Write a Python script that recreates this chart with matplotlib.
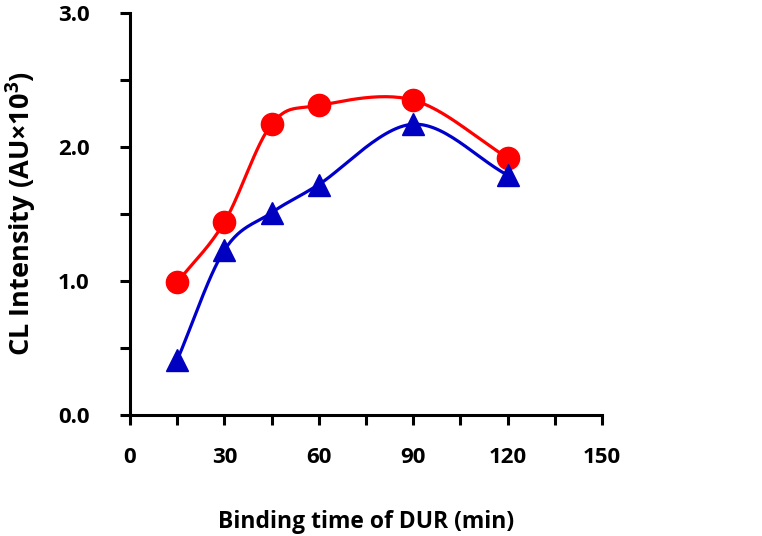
import matplotlib
matplotlib.use('Agg')
import matplotlib.pyplot as plt
import numpy as np

plt.rcParams['font.family'] = ['Open Sans', 'DejaVu Sans']
plt.rcParams['font.weight'] = 'bold'
plt.rcParams['mathtext.fontset'] = 'custom'
plt.rcParams['mathtext.rm'] = 'Open Sans:bold'
plt.rcParams['mathtext.bf'] = 'Open Sans:bold'
plt.rcParams['mathtext.default'] = 'bf'

time_min = [15, 30, 45, 60, 90, 120]
red_vals = [0.99, 1.44, 2.17, 2.31, 2.35, 1.92]
blue_vals = [0.41, 1.23, 1.51, 1.72, 2.17, 1.79]


def smooth(x, y, n=30):
    # catmull-rom style curve through the points, like excel's smoothed line
    x = np.asarray(x, float)
    y = np.asarray(y, float)
    px = np.concatenate([[2 * x[0] - x[1]], x, [2 * x[-1] - x[-2]]])
    py = np.concatenate([[2 * y[0] - y[1]], y, [2 * y[-1] - y[-2]]])
    xs, ys = [], []
    t = np.linspace(0, 1, n)
    for i in range(1, len(px) - 2):
        for p, out in ((px, xs), (py, ys)):
            p0, p1, p2, p3 = p[i - 1], p[i], p[i + 1], p[i + 2]
            out.extend(0.5 * (2 * p1 + (-p0 + p2) * t
                              + (2 * p0 - 5 * p1 + 4 * p2 - p3) * t ** 2
                              + (-p0 + 3 * p1 - 3 * p2 + p3) * t ** 3))
    return xs, ys


fig = plt.figure(figsize=(7.62, 5.36), dpi=100)
ax = fig.add_axes([0.1706, 0.2257, 0.6194, 0.75])

sx, sy = smooth(time_min, red_vals)
ax.plot(sx, sy, color='#ff0000', lw=2.3)
ax.plot(time_min, red_vals, 'o', color='#ff0000', ms=16, mec='#ff0000', clip_on=False)

sx, sy = smooth(time_min, blue_vals)
ax.plot(sx, sy, color='#0000cc', lw=2.3)
ax.plot(time_min, blue_vals, '^', color='#0000c0', ms=16, clip_on=False)

ax.set_xlim(0, 150)
ax.set_ylim(0, 3.0)
ax.set_xticks(range(0, 151, 30))
ax.set_xticks(range(0, 151, 15), minor=True)
ax.set_yticks([0, 1, 2, 3])
ax.set_yticks([0.5, 1.5, 2.5], minor=True)
ax.set_yticklabels(['0.0', '1.0', '2.0', '3.0'])

for s in ['top', 'right']:
    ax.spines[s].set_visible(False)
for s in ['left', 'bottom']:
    ax.spines[s].set_linewidth(2.2)

ax.tick_params(which='both', direction='out', width=2.2, length=7, labelsize=16)
ax.tick_params(axis='x', pad=16)
ax.tick_params(axis='y', pad=22)

ax.set_xlabel('Binding time of DUR (min)', fontsize=16.5, fontweight='bold', labelpad=30)
ax.set_ylabel(r'CL Intensity (AU$\times$10$^{3}$)', fontsize=19.5, fontweight='bold', labelpad=14)

fig.savefig('out.png', dpi=100)
